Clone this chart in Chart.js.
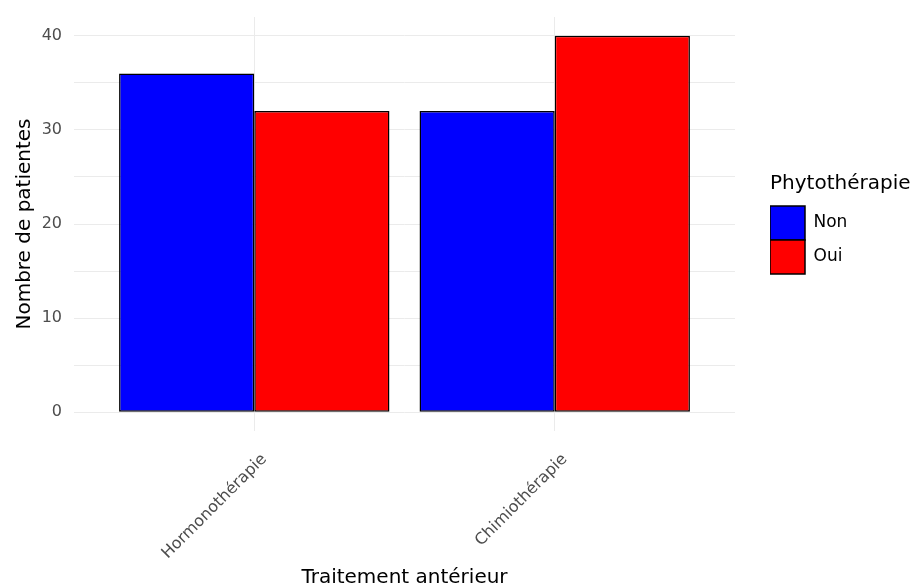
<!DOCTYPE html>
<html>
<head>
<meta charset="utf-8">
<script src="https://cdn.jsdelivr.net/npm/chart.js@4"></script>
<style>
  body { margin: 0; background: #ffffff; }
  #wrap { width: 917px; height: 588px; }
</style>
</head>
<body>
<div id="wrap"><canvas id="barChart" width="917" height="588"></canvas></div>
<script>
const categories = ["Hormonothérapie", "Chimiothérapie"];
const seriesNames = ["Non", "Oui"];
const nonValues = [36, 32];
const ouiValues = [32, 40];
const yTicks = [0, 5, 10, 15, 20, 25, 30, 35, 40];

const font = "'DejaVu Sans', sans-serif";

const toPoints = (values) => values.map((v, i) => ({ x: i, y: v }));

// the legend box is clipped to its own width, make room for the title
const legendWidth = {
    id: "legendWidth",
    afterInit(chart) {
        const legend = chart.legend;
        const fit = legend.fit;
        legend.fit = function () {
            fit.call(this);
            this.width = Math.max(this.width, 147);
        };
    },
};

const ctx = document.getElementById("barChart");

new Chart(ctx, {
    type: "bar",
    data: {
        datasets: [
            {
                label: seriesNames[0],
                data: toPoints(nonValues),
                backgroundColor: "#0000ff",
                borderColor: "#000000",
                borderWidth: 1.5,
                borderSkipped: false,
                categoryPercentage: 0.9,
                barPercentage: 1.0,
            },
            {
                label: seriesNames[1],
                data: toPoints(ouiValues),
                backgroundColor: "#ff0000",
                borderColor: "#000000",
                borderWidth: 1.5,
                borderSkipped: false,
                categoryPercentage: 0.9,
                barPercentage: 1.0,
            },
        ],
    },
    plugins: [legendWidth],
    options: {
        responsive: false,
        animation: false,
        layout: {
            padding: { top: 17, left: 9, right: 0, bottom: 0 },
        },
        plugins: {
            tooltip: { enabled: false },
            legend: {
                position: "right",
                align: "center",
                fullSize: false,
                title: {
                    display: true,
                    position: "start",
                    text: "Phytothérapie",
                    color: "#000000",
                    font: { family: font, size: 20 },
                    padding: { top: 0, bottom: 8 },
                },
                labels: {
                    boxWidth: 35,
                    boxHeight: 34,
                    padding: 0,
                    color: "#000000",
                    font: { family: font, size: 17 },
                },
            },
        },
        scales: {
            x: {
                type: "linear",
                min: -0.6,
                max: 1.6,
                offset: false,
                afterBuildTicks: (scale) => {
                    scale.ticks = categories.map((c, i) => ({ value: i }));
                },
                afterFit: (scale) => {
                    scale.height = 157;
                },
                grid: {
                    offset: false,
                    color: "#ebebeb",
                    lineWidth: 1,
                    drawTicks: false,
                },
                border: { display: false },
                ticks: {
                    autoSkip: false,
                    minRotation: 45,
                    maxRotation: 45,
                    padding: 19,
                    labelOffset: 10,
                    color: "#4d4d4d",
                    font: { family: font, size: 16 },
                    callback: (value) => categories[value],
                },
                title: {
                    display: true,
                    text: "Traitement antérieur",
                    color: "#000000",
                    font: { family: font, size: 20, lineHeight: 1.0 },
                    padding: { top: 0, bottom: 0 },
                },
            },
            y: {
                min: -2,
                max: 42,
                afterBuildTicks: (scale) => {
                    scale.ticks = yTicks.map((v) => ({ value: v }));
                },
                afterFit: (scale) => {
                    scale.width = 65;
                    scale.paddingTop = 0;
                    scale.paddingBottom = 0;
                },
                grid: {
                    color: "#ebebeb",
                    lineWidth: 1,
                    drawTicks: false,
                },
                border: { display: false },
                ticks: {
                    padding: 12,
                    color: "#4d4d4d",
                    font: { family: font, size: 16 },
                    callback: (value) => (value % 10 === 0 ? value : ""),
                },
                title: {
                    display: true,
                    text: "Nombre de patientes",
                    color: "#000000",
                    font: { family: font, size: 20 },
                    padding: { top: 4, bottom: 4 },
                },
            },
            // empty gap between the panel and the legend
            yGap: {
                type: "linear",
                position: "right",
                grid: { display: false },
                border: { display: false },
                ticks: { display: false },
                afterFit: (scale) => {
                    scale.width = 35;
                },
            },
        },
    },
});
</script>
</body>
</html>
